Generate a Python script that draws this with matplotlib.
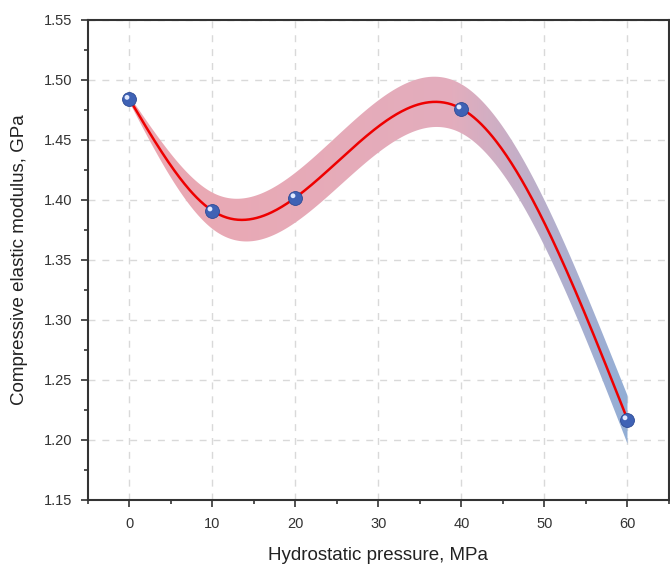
import matplotlib
matplotlib.use("Agg")
import matplotlib.pyplot as plt
import numpy as np
from matplotlib.colors import LinearSegmentedColormap
from matplotlib.ticker import MultipleLocator, FormatStrFormatter

plt.rcParams['font.family'] = ['Liberation Sans', 'DejaVu Sans']

# data
pressure = [0, 10, 20, 40, 60]
modulus = [1.484, 1.391, 1.402, 1.476, 1.217]
band_halfwidth = [0.002, 0.017, 0.019, 0.021, 0.020]


def natural_spline(x, y, xs):
    x = np.asarray(x, float)
    y = np.asarray(y, float)
    n = len(x)
    h = np.diff(x)
    A = np.zeros((n, n))
    b = np.zeros(n)
    A[0, 0] = A[-1, -1] = 1
    for i in range(1, n - 1):
        A[i, i - 1] = h[i - 1]
        A[i, i] = 2 * (h[i - 1] + h[i])
        A[i, i + 1] = h[i]
        b[i] = 6 * ((y[i + 1] - y[i]) / h[i] - (y[i] - y[i - 1]) / h[i - 1])
    M = np.linalg.solve(A, b)
    out = np.empty_like(xs)
    for k, t in enumerate(xs):
        i = min(np.searchsorted(x, t, side='right') - 1, n - 2)
        i = max(i, 0)
        a = x[i + 1] - t
        c = t - x[i]
        out[k] = (M[i] * a ** 3 + M[i + 1] * c ** 3) / (6 * h[i]) \
            + (y[i] / h[i] - M[i] * h[i] / 6) * a + (y[i + 1] / h[i] - M[i + 1] * h[i] / 6) * c
    return out


fig = plt.figure(figsize=(6.70, 5.69), dpi=100)
ax = fig.add_axes([0.1313, 0.1213, 0.8672, 0.8436])

xs = np.linspace(0, 60, 400)
ys = natural_spline(pressure, modulus, xs)
hw = np.polyval(np.polyfit(pressure, band_halfwidth, 3), xs)
lo = ys - hw
hi = ys + hw

# gradient band
poly = ax.fill_between(xs, lo, hi, facecolor='none', edgecolor='none')
cmap = LinearSegmentedColormap.from_list('band', [(0, '#eba8b2'), (0.65, '#e3adbd'), (0.85, '#b5b0cd'), (1, '#92aed6')])
grad = np.linspace(0, 1, 256).reshape(1, -1)
im = ax.imshow(grad, cmap=cmap, aspect='auto', extent=[0, 60, lo.min(), hi.max()],
               origin='lower', zorder=1)
im.set_clip_path(poly.get_paths()[0], transform=ax.transData)

ax.plot(xs, ys, color='#ee0000', lw=1.8, zorder=3)

# sphere-like markers
ax.scatter(pressure, modulus, s=100, color='#3f62b5', edgecolor='#2d4a95', linewidth=0.6, zorder=4)
ax.scatter(np.array(pressure) - 0.3, np.array(modulus) + 0.0015, s=12, color='#dfe8ff', edgecolor='none', zorder=5)

ax.set_xlim(-5, 65)
ax.set_ylim(1.15, 1.55)
ax.xaxis.set_major_locator(MultipleLocator(10))
ax.xaxis.set_minor_locator(MultipleLocator(5))
ax.yaxis.set_major_locator(MultipleLocator(0.05))
ax.yaxis.set_minor_locator(MultipleLocator(0.025))
ax.yaxis.set_major_formatter(FormatStrFormatter('%.2f'))

ax.grid(True, which='major', color='#d9d9d9', linestyle=(0, (5, 5)), linewidth=1, zorder=0)
ax.set_axisbelow(True)

for s in ax.spines.values():
    s.set_color('#333333')
    s.set_linewidth(1.5)
ax.tick_params(which='major', direction='out', length=5, width=1.2, color='#333333',
               labelsize=10.5, labelcolor='#333333', pad=6)
ax.tick_params(which='minor', direction='out', length=3, width=1.2, color='#333333')
ax.tick_params(axis='x', pad=7)

ax.set_xlabel('Hydrostatic pressure, MPa', fontsize=13.5, color='#222222', labelpad=12)
ax.set_ylabel('Compressive elastic modulus, GPa', fontsize=13.5, color='#222222', labelpad=12)

fig.savefig('out.png', dpi=100)
